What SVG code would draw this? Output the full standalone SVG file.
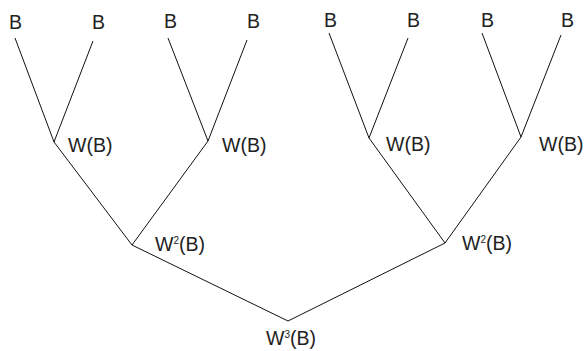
<svg xmlns="http://www.w3.org/2000/svg" width="584" height="351" viewBox="0 0 584 351">
<style>
text{font-family:"Liberation Sans",Arial,sans-serif;font-size:19.5px;fill:#222}
.sup{font-size:10px}
#connectors polyline{fill:none;stroke:#111;stroke-width:1}
</style>
<rect width="584" height="351" fill="#fff"/>
<g id="connectors">
<polyline points="15,38 54,142 93,41"/>
<polyline points="168,38 208,141 247,40"/>
<polyline points="329,33 369,138 408,38"/>
<polyline points="482,33 521,137 561,35"/>
<polyline points="54,142 132,245 208,141"/>
<polyline points="369,138 445,243 521,137"/>
<polyline points="132,245 288,321 445,243"/>
</g>
<g id="leaf1"><text x="9" y="29">B</text></g>
<g id="leaf2"><text x="92" y="29">B</text></g>
<g id="leaf3"><text x="164" y="28">B</text></g>
<g id="leaf4"><text x="247" y="28">B</text></g>
<g id="leaf5"><text x="324" y="27">B</text></g>
<g id="leaf6"><text x="407" y="27">B</text></g>
<g id="leaf7"><text x="481" y="27">B</text></g>
<g id="leaf8"><text x="561" y="27">B</text></g>
<g id="w1a"><text x="68" y="152">W(B)</text></g>
<g id="w1b"><text x="222" y="152">W(B)</text></g>
<g id="w1c"><text x="386" y="151">W(B)</text></g>
<g id="w1d"><text x="539" y="151">W(B)</text></g>
<g id="w2a"><text x="155" y="251">W<tspan class="sup" dy="-7">2</tspan><tspan dy="7">(B)</tspan></text></g>
<g id="w2b"><text x="462" y="250">W<tspan class="sup" dy="-7">2</tspan><tspan dy="7">(B)</tspan></text></g>
<g id="w3"><text x="266" y="345">W<tspan class="sup" dy="-7">3</tspan><tspan dy="7">(B)</tspan></text></g>
</svg>
